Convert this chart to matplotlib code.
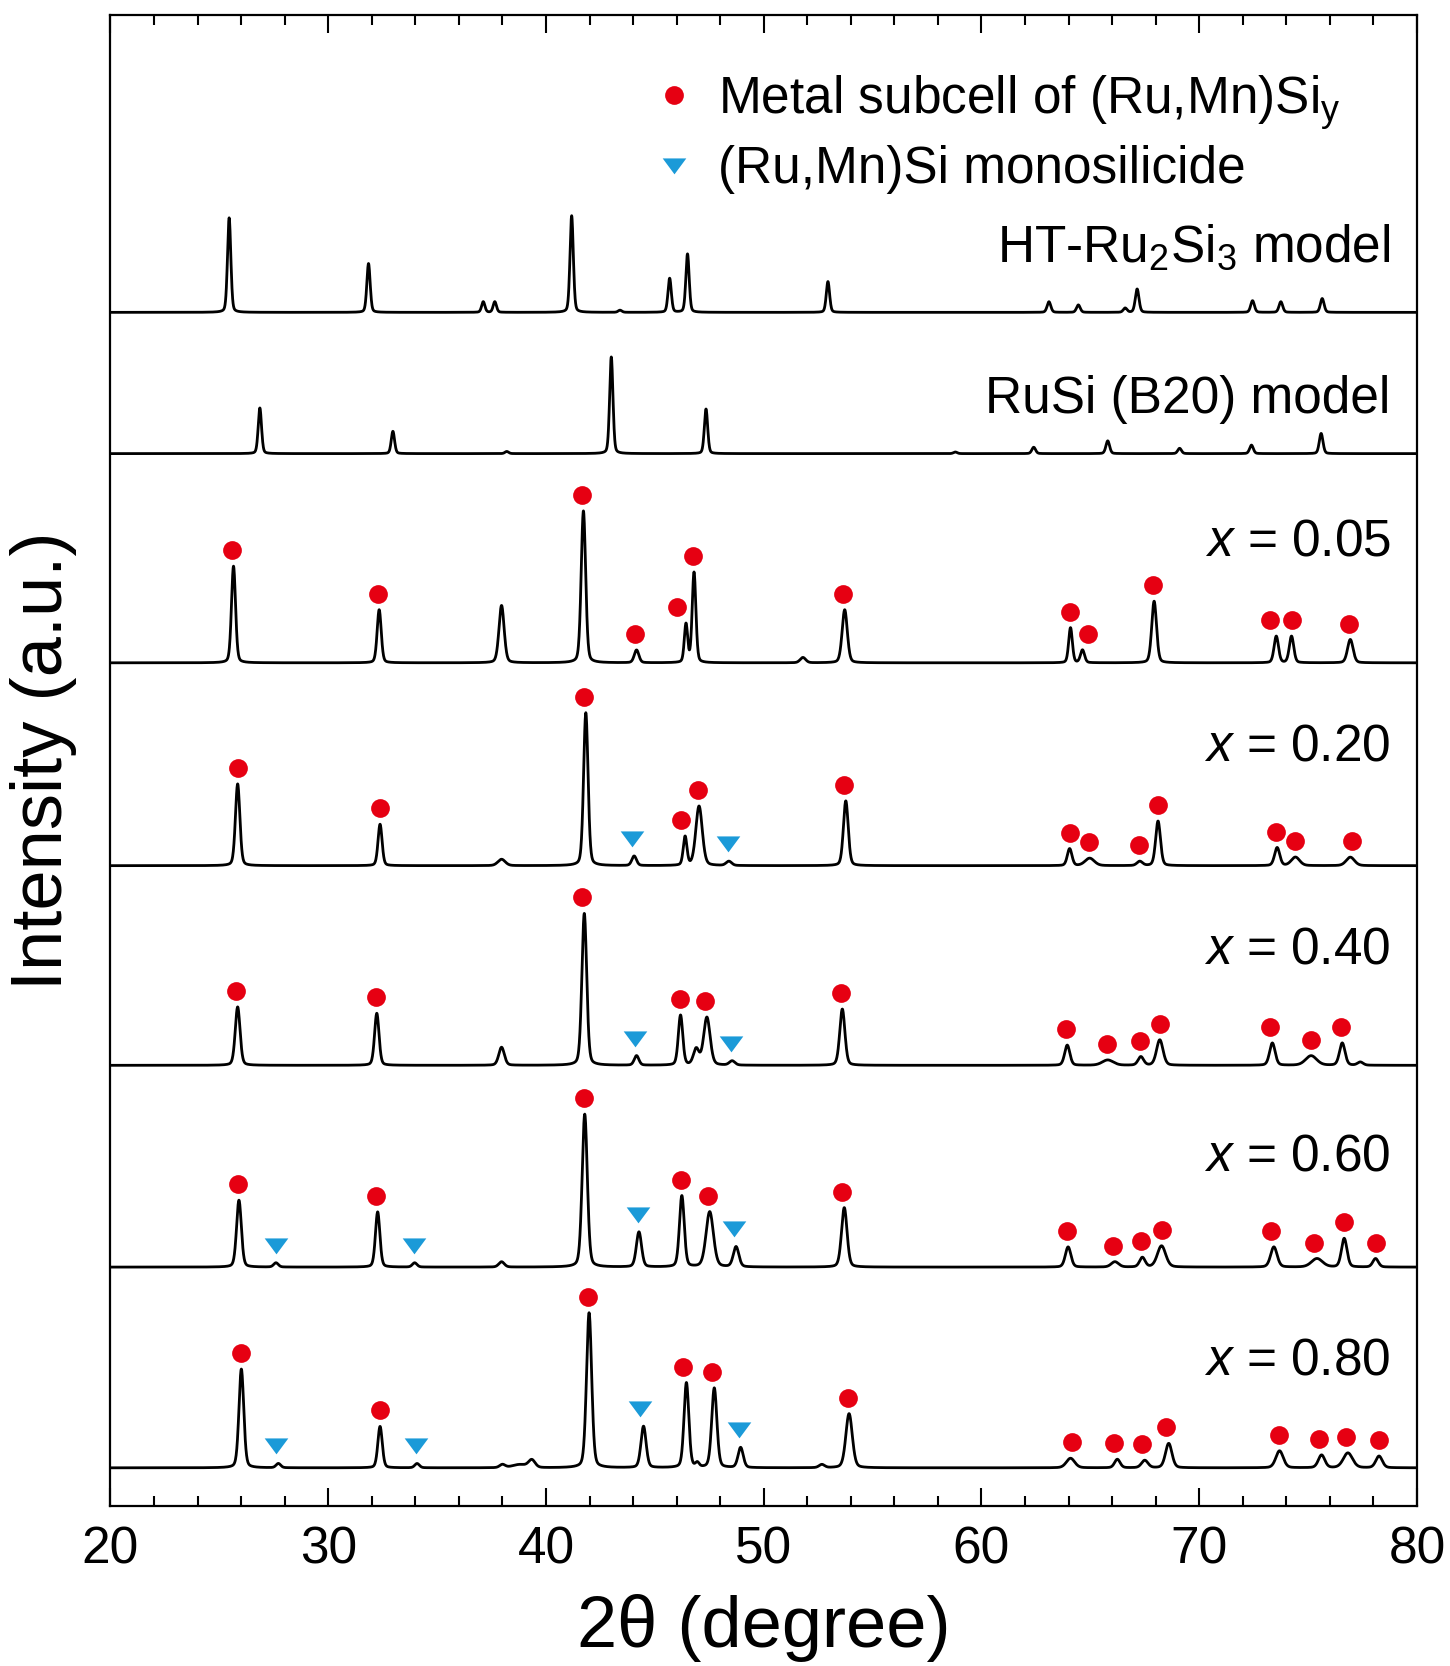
import numpy as np
import matplotlib
matplotlib.use("Agg")
import matplotlib.pyplot as plt
from matplotlib.lines import Line2D
from matplotlib.ticker import MultipleLocator

plt.rcParams['font.family'] = ['Liberation Sans', 'DejaVu Sans']
plt.rcParams['mathtext.fontset'] = 'custom'
plt.rcParams['mathtext.rm'] = 'Liberation Sans'
plt.rcParams['mathtext.it'] = 'Liberation Sans:italic'

# --- data ---------------------------------------------------------------
# peaks: (2theta, intensity, fwhm)
ht_ru2si3_peaks = [
    (25.45, 89, 0.18), (31.85, 46, 0.18), (37.12, 10, 0.18), (37.65, 10, 0.18),
    (41.18, 91, 0.18), (43.4, 2, 0.2), (45.68, 32, 0.18), (46.5, 55, 0.18),
    (52.95, 29, 0.18), (63.1, 10, 0.2), (64.45, 7, 0.2), (66.6, 4, 0.2),
    (67.15, 22, 0.2), (72.45, 11, 0.2), (73.75, 10, 0.2), (75.65, 13, 0.2),
]
rusi_b20_peaks = [
    (26.86, 43, 0.18), (32.97, 21, 0.18), (38.2, 2, 0.2), (43.0, 91, 0.18),
    (47.35, 42, 0.18), (58.8, 1.5, 0.2), (62.4, 6, 0.2), (65.8, 12, 0.2),
    (69.1, 5, 0.2), (72.4, 8, 0.2), (75.6, 19, 0.2),
]
x005_peaks = [
    (25.65, 91, 0.22), (32.34, 50, 0.22), (37.96, 54, 0.28), (41.72, 143, 0.24),
    (44.16, 12, 0.25), (46.43, 36, 0.18), (46.8, 85, 0.2), (51.8, 5, 0.3),
    (53.72, 50, 0.28), (64.09, 33, 0.2), (64.64, 12, 0.22), (67.93, 58, 0.26),
    (73.54, 25, 0.24), (74.24, 25, 0.24), (76.94, 22, 0.3),
]
x020_peaks = [
    (25.84, 77, 0.24), (32.38, 39, 0.22), (37.96, 6, 0.4), (41.83, 144, 0.24),
    (44.05, 9, 0.25), (46.39, 27, 0.2), (47.03, 56, 0.35), (48.4, 4, 0.3),
    (53.77, 61, 0.26), (64.05, 16, 0.25), (64.97, 7, 0.5), (67.27, 4, 0.3),
    (68.11, 42, 0.26), (73.58, 17, 0.28), (74.42, 8, 0.45), (76.94, 8, 0.45),
]
x040_peaks = [
    (25.84, 55, 0.26), (32.23, 49, 0.24), (37.96, 17, 0.3), (41.76, 143, 0.26),
    (44.16, 9, 0.25), (46.18, 47, 0.24), (46.9, 15, 0.3), (47.39, 45, 0.35),
    (48.55, 4, 0.3), (53.61, 53, 0.28), (63.94, 19, 0.28), (65.8, 5, 0.6),
    (67.32, 8, 0.3), (68.19, 24, 0.35), (73.36, 21, 0.3), (75.14, 9, 0.6),
    (76.57, 21, 0.3), (77.4, 3, 0.3),
]
x060_peaks = [
    (25.9, 63, 0.26), (27.6, 4, 0.25), (32.27, 52, 0.24), (33.97, 4, 0.25),
    (37.96, 5, 0.3), (41.78, 144, 0.28), (44.27, 33, 0.28), (46.24, 67, 0.26),
    (47.52, 52, 0.4), (48.73, 19, 0.3), (53.7, 56, 0.3), (63.98, 19, 0.3),
    (66.13, 5, 0.4), (67.39, 9, 0.3), (68.27, 20, 0.45), (73.43, 19, 0.35),
    (75.41, 8, 0.6), (76.66, 27, 0.3), (78.1, 8, 0.3),
]
x080_peaks = [
    (26.01, 93, 0.26), (27.71, 4, 0.25), (32.38, 39, 0.24), (34.08, 4, 0.25),
    (38.0, 3, 0.3), (38.8, 3, 0.8), (39.35, 7, 0.35), (41.98, 146, 0.28),
    (44.48, 39, 0.28), (46.45, 80, 0.26), (46.95, 4, 0.2), (47.73, 75, 0.28),
    (48.94, 19, 0.28), (52.67, 3, 0.3), (53.92, 51, 0.35), (64.09, 9, 0.45),
    (66.24, 8, 0.3), (67.5, 7, 0.35), (68.6, 23, 0.35), (73.69, 16, 0.4),
    (75.62, 12, 0.35), (76.83, 14, 0.5), (78.26, 11, 0.35),
]

# marker positions (2theta) for each sample
circles_005 = [25.56, 32.29, 41.66, 44.1, 46.0, 46.73, 53.66, 64.05, 64.88, 67.9, 73.27, 74.24, 76.88]
circles_020 = [25.85, 32.39, 41.76, 46.2, 46.98, 53.71, 64.05, 64.93, 67.22, 68.1, 73.51, 74.39, 77.02]
circles_040 = [25.76, 32.2, 41.66, 46.15, 47.32, 53.56, 63.9, 65.76, 67.27, 68.2, 73.27, 75.12, 76.49]
circles_060 = [25.85, 32.2, 41.76, 46.2, 47.46, 53.6, 63.95, 66.05, 67.32, 68.29, 73.32, 75.27, 76.63, 78.1]
circles_080 = [26.0, 32.39, 41.95, 46.29, 47.61, 53.85, 64.15, 66.1, 67.37, 68.49, 73.66, 75.51, 76.73, 78.24]
triangles_005 = []
triangles_020 = [43.95, 48.34]
triangles_040 = [44.1, 48.49]
triangles_060 = [27.6, 33.95, 44.24, 48.63]
triangles_080 = [27.6, 34.05, 44.34, 48.88]

series_peaks = [ht_ru2si3_peaks, rusi_b20_peaks, x005_peaks, x020_peaks, x040_peaks, x060_peaks, x080_peaks]
series_offsets = [1124, 991, 794, 603, 415, 225, 36]
series_labels = [r"HT-Ru$_2$Si$_3$ model", "RuSi (B20) model", r"$x$ = 0.05", r"$x$ = 0.20",
                 r"$x$ = 0.40", r"$x$ = 0.60", r"$x$ = 0.80"]
label_gaps = [48, 38, 101, 99, 96, 91, 88]
series_circles = [[], [], circles_005, circles_020, circles_040, circles_060, circles_080]
series_triangles = [[], [], triangles_005, triangles_020, triangles_040, triangles_060, triangles_080]

red = '#e60012'
blue = '#1b9ad8'
tri_marker = [(-1, 0.6), (1, 0.6), (0, -0.75), (-1, 0.6)]


def pattern(tt, peaks):
    y = np.zeros_like(tt)
    for pos, h, w in peaks:
        g = np.exp(-4 * np.log(2) * ((tt - pos) / w) ** 2)
        l = 1 / (1 + 4 * ((tt - pos) / w) ** 2)
        y += h * (0.75 * g + 0.25 * l)
    return y


def marker_height(tt, y, pos, win=0.45):
    # put the symbol just above the highest point near its position
    m = (tt > pos - win) & (tt < pos + win)
    return y[m].max()


two_theta = np.linspace(20, 80, 6001)

fig = plt.figure(figsize=(14.5, 16.66), dpi=100)
ax = fig.add_axes([0.0762, 0.0960, 0.901, 0.895])

for peaks, off, lab, gap, circ, tri in zip(series_peaks, series_offsets, series_labels,
                                            label_gaps, series_circles, series_triangles):
    y = pattern(two_theta, peaks)
    ax.plot(two_theta, y + off, color='black', lw=2.0, zorder=2)
    ax.text(78.8, off + gap, lab, ha='right', va='baseline', fontsize=37)
    if circ:
        ax.plot(circ, [marker_height(two_theta, y, p) + 15 + off for p in circ],
                'o', color=red, ms=13.5, mec='none', zorder=3)
    if tri:
        ax.plot(tri, [marker_height(two_theta, y, p) + 17 + off for p in tri],
                marker=tri_marker, ls='none', color=blue, ms=17, mec='none', zorder=3)

handles = [Line2D([], [], marker='o', color=red, ls='none', ms=13.5, mec='none'),
           Line2D([], [], marker=tri_marker, color=blue, ls='none', ms=17, mec='none')]
ax.legend(handles, [r"Metal subcell of (Ru,Mn)Si$_\mathregular{y}$", "(Ru,Mn)Si monosilicide"],
          loc='upper left', bbox_to_anchor=(0.4218, 0.961), frameon=False, fontsize=37,
          handlelength=0.5, handletextpad=0.6, labelspacing=0.25, borderpad=0, borderaxespad=0)

ax.set_xlim(20, 80)
ax.set_ylim(0, 1404)
ax.set_yticks([])
ax.xaxis.set_major_locator(MultipleLocator(10))
ax.xaxis.set_minor_locator(MultipleLocator(2))
ax.tick_params(axis='x', which='both', direction='in', top=True, bottom=True,
               labelsize=37, pad=14, width=1.5)
ax.tick_params(axis='x', which='major', length=13)
ax.tick_params(axis='x', which='minor', length=7.5)
for s in ax.spines.values():
    s.set_linewidth(1.6)

ax.set_xlabel("2θ (degree)", fontsize=52, labelpad=14)
ax.set_ylabel("Intensity (a.u.)", fontsize=52, labelpad=24)

fig.savefig("out.png", dpi=100)
